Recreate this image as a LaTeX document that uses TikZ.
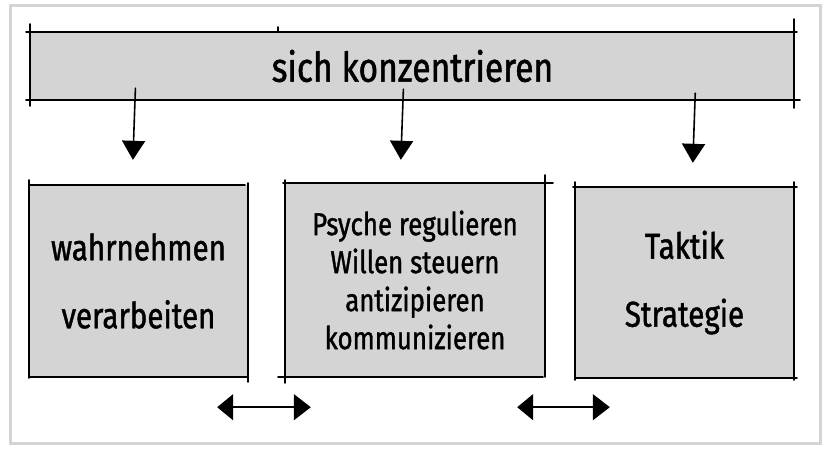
\documentclass[tikz,border=0pt]{standalone}
\usepackage{fontspec}
\setmainfont{Fira Sans}[FakeStretch=0.82,FakeBold=1.2]
\usetikzlibrary{arrows.meta}
\definecolor{boxgray}{RGB}{212,212,212}
\definecolor{framegray}{RGB}{212,212,212}
\begin{document}
\begin{tikzpicture}[x=1pt,y=-1pt,
  sk/.style={line width=1.6pt, black, line cap=round},
  fillbox/.style={fill=boxgray, inner sep=0pt, align=center},
  dn/.style={sk, -{Triangle[length=19pt,width=23pt]}},
  lr/.style={sk, {Triangle[length=16pt,width=26pt]}-{Triangle[length=17pt,width=26pt]}},
  bigtext/.style={font=\fontsize{36}{68}\selectfont},
  midtext/.style={font=\fontsize{31.5}{38}\selectfont}
]
\useasboundingbox (0,0) rectangle (830,455);
\draw[framegray, line width=3pt] (10,5) rectangle (820,443);

% banner
\node[fillbox, minimum width=765pt, minimum height=68pt, font=\fontsize{41}{48}\selectfont] (banner) at (412.5,66) {sich konzentrieren};
\draw[sk] (26,32) -- (797,32);
\draw[sk] (26,100) -- (800,100);
\draw[sk] (30,24) -- (30,106);
\draw[sk] (794,19) -- (794,108);
\draw[sk] (278,27) -- (278,32);

% boxes
\node[fillbox, bigtext, minimum width=219pt, minimum height=192pt] (box1) at (138.5,281) {wahrnehmen\\verarbeiten};
\draw[sk] (29,185) -- (245,185);
\draw[sk] (29,180) -- (29,378);
\draw[sk] (29,377) -- (248,377);
\draw[sk] (248,183) -- (248,382);

\node[fillbox, midtext, minimum width=260pt, minimum height=194pt] (box2) at (415,280) {Psyche regulieren\\Willen steuern\\antizipieren\\kommunizieren};
\draw[sk] (283,183) -- (553,183);
\draw[sk] (285,180) -- (285,383);
\draw[sk] (278,377) -- (543,377);
\draw[sk] (545,175) -- (545,377);

\node[fillbox, bigtext, minimum width=219pt, minimum height=191pt] (box3) at (684.5,282.5) {Taktik\\Strategie};
\draw[sk] (573,187) -- (797,187);
\draw[sk] (575,182) -- (575,380);
\draw[sk] (575,378) -- (797,378);
\draw[sk] (794,182) -- (794,380);

% down arrows
\draw[dn, shorten <=-12pt, shorten >=25pt] ([xshift=-277.5pt]banner.south) -- ([xshift=-6.5pt]box1.north);
\draw[dn, shorten <=-11pt, shorten >=23pt] ([xshift=-9.5pt]banner.south) -- ([xshift=-15pt]box2.north);
\draw[dn, shorten <=-7pt, shorten >=24pt] ([xshift=282.5pt]banner.south) -- ([xshift=7.5pt]box3.north);

% double arrows
\draw[lr] ([xshift=-31pt,yshift=-30pt]box1.south east) -- ([xshift=26pt,yshift=-30pt]box2.south west);
\draw[lr] ([xshift=-28pt,yshift=-30pt]box2.south east) -- ([xshift=35pt,yshift=-29pt]box3.south west);
\end{tikzpicture}
\end{document}
